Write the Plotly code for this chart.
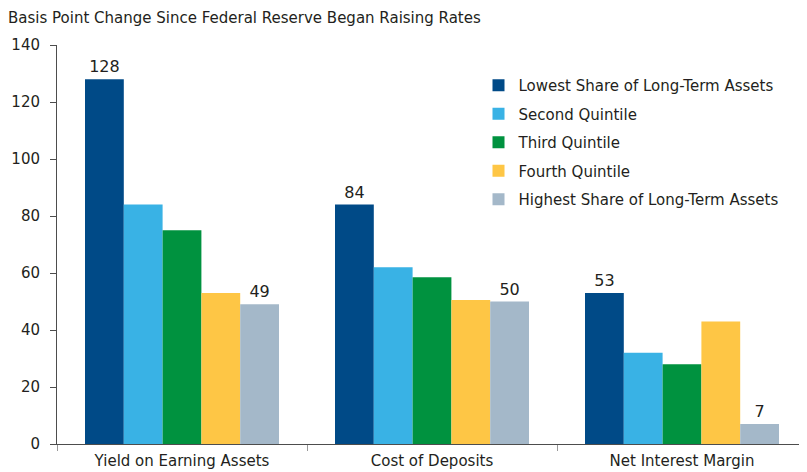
import plotly.graph_objects as go

# --- data ---------------------------------------------------------------
categories = ["Yield on Earning Assets", "Cost of Deposits", "Net Interest Margin"]
series_names = [
    "Lowest Share of Long-Term Assets",
    "Second Quintile",
    "Third Quintile",
    "Fourth Quintile",
    "Highest Share of Long-Term Assets",
]
lowest = [128, 84, 53]
second = [84, 62, 32]
third = [75, 58.5, 28]
fourth = [53, 50.5, 43]
highest = [49, 50, 7]
y_ticks = [0, 20, 40, 60, 80, 100, 120, 140]

COLORS = ["#004a87", "#39b2e5", "#00923f", "#fec645", "#a4b8c9"]
INK = "#231f20"
AXIS = "#4d4d4d"
FONT = "DejaVu Sans, Verdana, sans-serif"

values = [lowest, second, third, fourth, highest]
fig = go.Figure()
for i, (name, vals) in enumerate(zip(series_names, values)):
    # only the outer bars of each group carry a label
    labelled = i in (0, len(values) - 1)
    fig.add_trace(go.Bar(
        x=categories, y=vals, name=name, legendgroup=name,
        marker=dict(color=COLORS[i], line=dict(width=0)),
        text=[f"{v:.0f}" for v in vals] if labelled else None,
        textposition="outside", cliponaxis=False,
        textfont=dict(size=16, color=INK, family=FONT),
    ))

# the page body keeps its default 8px margin, so the figure is 8px smaller
fig.update_layout(
    width=799, height=464,
    barmode="group", bargap=0.224, bargroupgap=0,
    paper_bgcolor="white", plot_bgcolor="white",
    font=dict(family=FONT, size=15, color=INK),
    margin=dict(l=49, r=0, t=37, b=28, autoexpand=False),
    title=dict(text="Basis Point Change Since Federal Reserve Began Raising Rates",
               x=0.0, xanchor="left", y=0.98, yanchor="middle",
               font=dict(size=15, color=INK, family=FONT)),
    legend=dict(x=0.562, xanchor="left", y=0.94, yanchor="top",
                bgcolor="rgba(0,0,0,0)", tracegroupgap=6,
                font=dict(size=15, color=INK, family=FONT)),
    showlegend=True,
)
fig.update_yaxes(range=[0, 140], tickvals=y_ticks, showgrid=False, zeroline=False,
                 showline=True, linecolor=AXIS, linewidth=1,
                 ticks="outside", ticklen=6, tickcolor=AXIS,
                 ticklabelstandoff=7, tickfont=dict(size=15, color=INK))
fig.update_xaxes(showgrid=False, showline=True, linecolor=AXIS, linewidth=1,
                 ticks="outside", tickson="boundaries", ticklen=6, tickcolor="#999999",
                 ticklabelstandoff=3, tickfont=dict(size=15, color=INK))

fig.write_html("out.html")
